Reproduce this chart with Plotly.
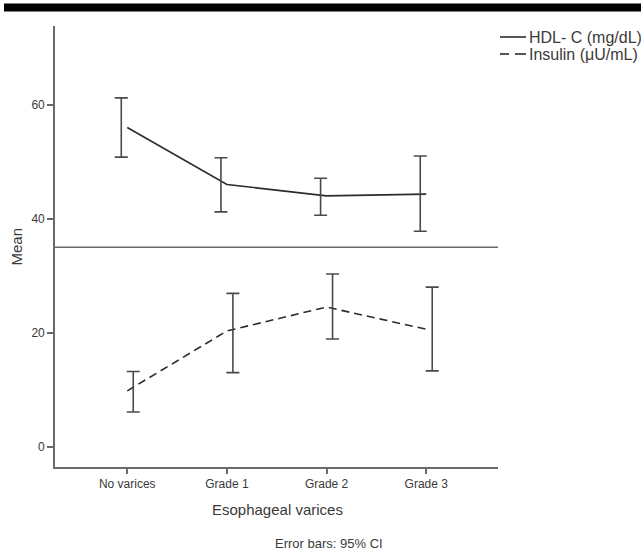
import plotly.graph_objects as go

categories = ["No varices", "Grade 1", "Grade 2", "Grade 3"]
hdl_mean = [56.0, 46.0, 44.0, 44.3]
hdl_upper = [61.2, 50.7, 47.1, 51.0]
hdl_lower = [50.8, 41.2, 40.6, 37.8]
ins_mean = [9.8, 20.3, 24.5, 20.6]
ins_upper = [13.2, 26.9, 30.3, 28.0]
ins_lower = [6.1, 13.0, 18.9, 13.3]
y_ticks = [0, 20, 40, 60]
ref_line = 35

W, H = 641, 554
L, R, T, B = 55, 143, 26, 87
pw, ph = W - L - R, H - T - B

def px_x(p):
    return (p - L) / pw

def px_y(p):
    return (H - B - p) / ph

FONT = "Liberation Sans, Arial, sans-serif"
LINE_C = "#2b2b2b"
AX_C = "#6a6a6a"
TXT_C = "#3a3a3a"

xi = list(range(len(categories)))
off = 0.06

fig = go.Figure()
fig.add_trace(go.Scatter(x=xi, y=hdl_mean, mode="lines",
                         line=dict(color=LINE_C, width=1.6), name="HDL- C (mg/dL)"))
fig.add_trace(go.Scatter(x=xi, y=ins_mean, mode="lines",
                         line=dict(color=LINE_C, width=1.6, dash="8px,5px"), name="Insulin (μU/mL)"))

def add_err(means, up, lo, shift):
    fig.add_trace(go.Scatter(
        x=[v + shift for v in xi], y=means, mode="markers",
        marker=dict(size=1, color="rgba(0,0,0,0)"),
        error_y=dict(type="data", symmetric=False,
                     array=[u - m for u, m in zip(up, means)],
                     arrayminus=[m - l for m, l in zip(means, lo)],
                     color="#4a4a4a", thickness=1.6, width=6.5),
        showlegend=False, hoverinfo="skip"))

add_err(hdl_mean, hdl_upper, hdl_lower, -off)
add_err(ins_mean, ins_upper, ins_lower, off)

shapes = [
    # top black bar
    dict(type="rect", xref="paper", yref="paper", x0=px_x(4), x1=px_x(645),
         y0=px_y(11.5), y1=px_y(3.5), fillcolor="black", line=dict(width=0), layer="above"),
    # reference line
    dict(type="line", xref="paper", yref="y", x0=0, x1=1, y0=ref_line, y1=ref_line,
         line=dict(color=AX_C, width=1.6)),
    # legend samples
    dict(type="line", xref="paper", yref="paper", x0=px_x(500), x1=px_x(526),
         y0=px_y(37), y1=px_y(37), line=dict(color=LINE_C, width=1.6)),
    dict(type="line", xref="paper", yref="paper", x0=px_x(500), x1=px_x(509),
         y0=px_y(54), y1=px_y(54), line=dict(color=LINE_C, width=1.6)),
    dict(type="line", xref="paper", yref="paper", x0=px_x(515), x1=px_x(526),
         y0=px_y(54), y1=px_y(54), line=dict(color=LINE_C, width=1.6)),
]

annotations = [
    dict(text="HDL- C (mg/dL)", x=px_x(527), y=px_y(37), xref="paper", yref="paper",
         xanchor="left", yanchor="middle", showarrow=False,
         font=dict(family=FONT, size=16, color=TXT_C)),
    dict(text="Insulin (μU/mL)", x=px_x(527), y=px_y(54), xref="paper", yref="paper",
         xanchor="left", yanchor="middle", showarrow=False,
         font=dict(family=FONT, size=16, color=TXT_C)),
    dict(text="Mean", x=px_x(16.5), y=px_y(247), xref="paper", yref="paper",
         xanchor="center", yanchor="middle", textangle=-90, showarrow=False,
         font=dict(family=FONT, size=15, color=TXT_C)),
    dict(text="Esophageal varices", x=px_x(277), y=px_y(509), xref="paper", yref="paper",
         xanchor="center", yanchor="middle", showarrow=False,
         font=dict(family=FONT, size=15, color=TXT_C)),
    dict(text="Error bars: 95% CI", x=px_x(329), y=px_y(543), xref="paper", yref="paper",
         xanchor="center", yanchor="middle", showarrow=False,
         font=dict(family=FONT, size=13, color=TXT_C)),
]

fig.update_layout(
    width=W, height=H,
    margin=dict(l=L, r=R, t=T, b=B, pad=0),
    paper_bgcolor="white", plot_bgcolor="white",
    showlegend=False,
    shapes=shapes, annotations=annotations,
    xaxis=dict(range=[-0.725, 3.72], tickmode="array", tickvals=xi, ticktext=categories,
               showgrid=False, zeroline=False, showline=True, linecolor=AX_C, linewidth=1.6,
               ticks="outside", ticklen=5, tickwidth=1.6, tickcolor=AX_C,
               tickfont=dict(family=FONT, size=12, color=TXT_C)),
    yaxis=dict(range=[-3.56, 73.8], tickmode="array", tickvals=y_ticks,
               showgrid=False, zeroline=False, showline=True, linecolor=AX_C, linewidth=1.6,
               ticks="outside", ticklen=6, tickwidth=1.6, tickcolor=AX_C,
               tickfont=dict(family=FONT, size=12, color=TXT_C)),
)

fig.write_html("out.html")
